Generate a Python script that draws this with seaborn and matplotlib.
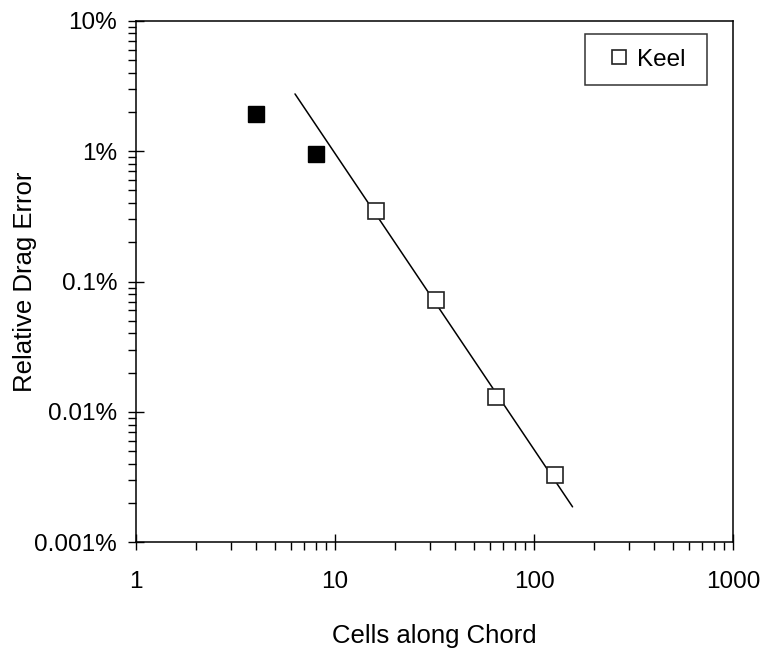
import matplotlib
matplotlib.use("Agg")
import matplotlib.pyplot as plt
import matplotlib.ticker as mticker
import seaborn as sns
import pandas as pd

sns.set_style("ticks")
plt.rcParams['font.family'] = ['Liberation Sans', 'DejaVu Sans']
plt.rcParams.update({'text.color': 'black', 'axes.labelcolor': 'black',
                     'xtick.color': 'black', 'ytick.color': 'black'})

# coarse grids (filled) and Keel series (open), error in percent
coarse_cells = [4, 8]
coarse_err = [1.92, 0.96]
keel_cells = [16, 32, 64, 128]
keel_err = [0.348, 0.072, 0.013, 0.0033]
# fitted convergence line end points
fit_cells = [6.3, 156]
fit_err = [2.75, 0.00187]

coarse = pd.DataFrame({'cells': coarse_cells, 'err': coarse_err})
keel = pd.DataFrame({'cells': keel_cells, 'err': keel_err})
fit = pd.DataFrame({'cells': fit_cells, 'err': fit_err})

fig = plt.figure(figsize=(7.63, 6.51), dpi=100)
ax = fig.add_axes([0.178, 0.167, 0.783, 0.801])

sns.lineplot(data=fit, x='cells', y='err', color='black', lw=1.1, ax=ax, zorder=2)
ax.plot(coarse['cells'], coarse['err'], ls='none', marker='s', ms=11,
        mfc='black', mec='black', zorder=3)
ax.plot(keel['cells'], keel['err'], ls='none', marker='s', ms=11,
        mfc='white', mec='#222222', mew=1.2, zorder=3, label='Keel ')

ax.set_xscale('log')
ax.set_yscale('log')
ax.set_xlim(1, 1000)
ax.set_ylim(0.001, 10)

ax.xaxis.set_major_formatter(mticker.FuncFormatter(lambda v, p: f'{v:g}'))
ax.yaxis.set_major_formatter(mticker.FuncFormatter(lambda v, p: f'{v:g}%'))
ax.xaxis.set_minor_formatter(mticker.NullFormatter())
ax.yaxis.set_minor_formatter(mticker.NullFormatter())

ax.tick_params(which='major', direction='inout', length=12, width=1, labelsize=17.5)
ax.tick_params(axis='x', which='major', pad=15)
ax.tick_params(axis='y', which='major', pad=7.5)
ax.tick_params(which='minor', direction='out', length=6, width=1)
for s in ax.spines.values():
    s.set_linewidth(1.1)
    s.set_color('black')

ax.set_xlabel('Cells along Chord', fontsize=18.5, labelpad=22)
ax.set_ylabel('Relative Drag Error', fontsize=18.5, labelpad=-2)

leg = ax.legend(loc='upper right', bbox_to_anchor=(0.956, 0.9745), borderaxespad=0,
                fontsize=17.5, frameon=True, fancybox=False, handlelength=1.57,
                handletextpad=-0.04, borderpad=0.6, markerscale=0.95)
leg.get_frame().set_edgecolor('black')
leg.get_frame().set_linewidth(1.1)

fig.savefig('out.png', dpi=100)
